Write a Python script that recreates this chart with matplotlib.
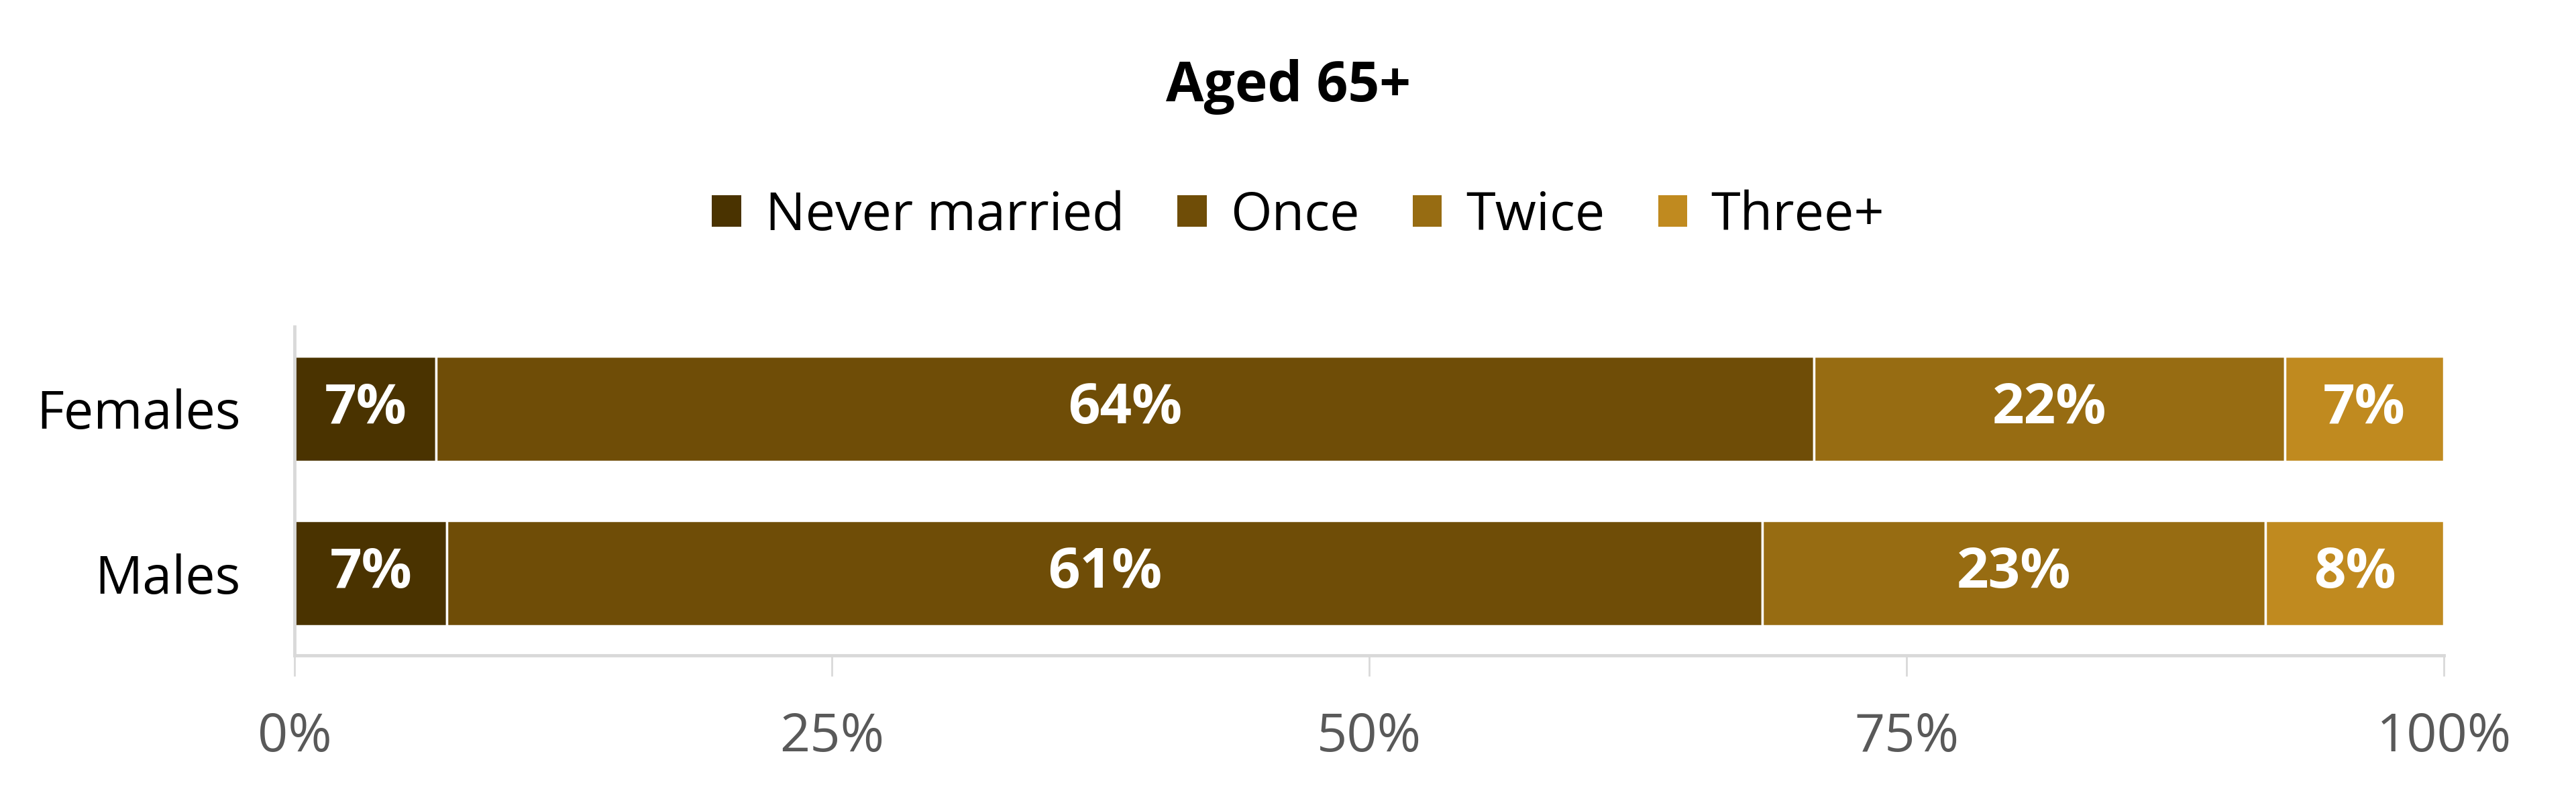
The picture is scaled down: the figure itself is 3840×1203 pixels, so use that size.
import numpy as np
import matplotlib
matplotlib.use("Agg")
import matplotlib.pyplot as plt
from matplotlib.patches import Patch

plt.rcParams['font.family'] = ['Open Sans', 'DejaVu Sans']

# data
groups = ['Males', 'Females']
series = ['Never married', 'Once', 'Twice', 'Three+']
never_married = [7.1, 6.6]
once = [61.2, 64.1]
twice = [23.4, 21.9]
three_plus = [8.3, 7.4]
colours = ['#4a3300', '#6f4d07', '#976c12', '#c08a1f']
xticks = [0, 25, 50, 75, 100]

fig = plt.figure(figsize=(38.4, 12.03), dpi=100)
ax = fig.add_axes([439/3840, 1-977/1203, (3643-439)/3840, (977-487)/1203])

ypos = np.arange(len(groups))
left = np.zeros(len(groups))
for vals, col in zip([never_married, once, twice, three_plus], colours):
    vals = np.array(vals)
    ax.barh(ypos, vals, left=left, height=0.64, color=col,
            edgecolor='white', linewidth=2.5)
    for y, v, l in zip(ypos, vals, left):
        ax.text(l + v/2, y, f'{round(v):.0f}%', ha='center', va='center',
                color='white', fontsize=60, fontweight='bold')
    left += vals

ax.set_xlim(0, 100)
ax.set_ylim(-0.5, 1.5)
ax.set_yticks(ypos)
ax.set_yticklabels(groups, fontsize=57, color='black')
ax.set_xticks(xticks)
ax.set_xticklabels([f'{t}%' for t in xticks], fontsize=57, color='#595959')
ax.tick_params(axis='y', length=0, pad=58)
ax.tick_params(axis='x', length=22, width=2, color='#d9d9d9', pad=38)

for s in ['top', 'right']:
    ax.spines[s].set_visible(False)
for s in ['left', 'bottom']:
    ax.spines[s].set_color('#d9d9d9')
    ax.spines[s].set_linewidth(3.5)

fig.text(0.5, 1-151/1203, 'Aged 65+', ha='center', va='baseline',
         fontsize=59, fontweight='bold', color='black')

handles = [Patch(facecolor=c, label=s) for s, c in zip(series, colours)]
fig.legend(handles=handles, loc='center', bbox_to_anchor=(0.504, 1-322/1203),
           ncol=4, frameon=False, fontsize=57, handlelength=0.55,
           handleheight=0.55, handletextpad=0.45, columnspacing=1.0)

fig.savefig('out.png', dpi=100)
